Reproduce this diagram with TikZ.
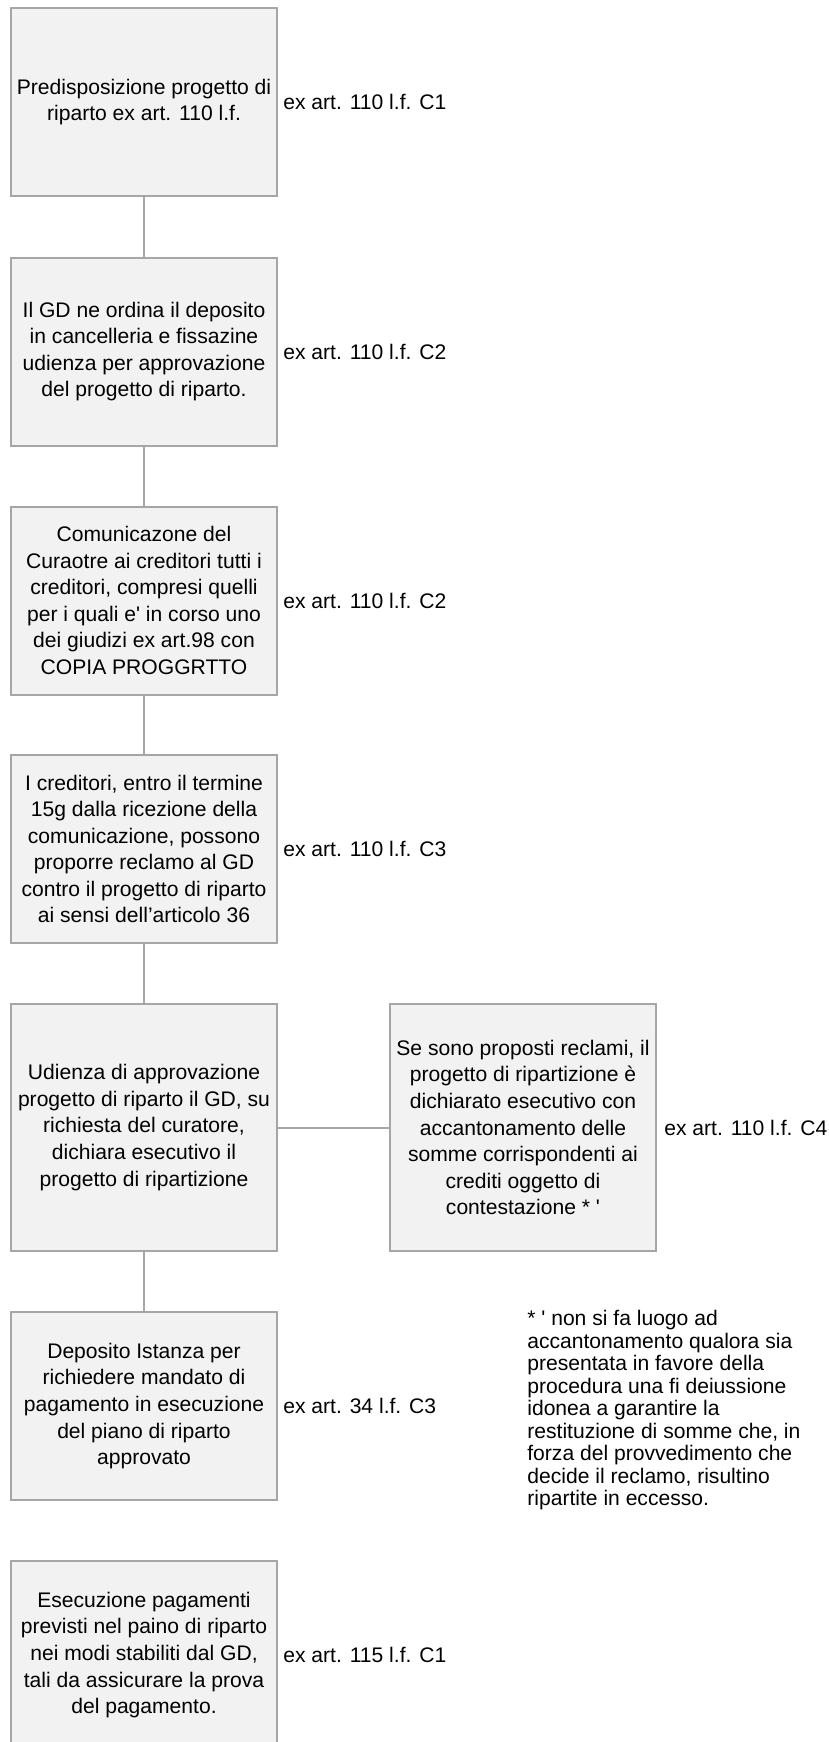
\documentclass[tikz,border=0pt]{standalone}
\usepackage{fontspec}
\setmainfont{Liberation Sans}
\usepackage{tikz}
\usetikzlibrary{positioning}
\definecolor{boxfill}{HTML}{F2F2F2}
\definecolor{boxline}{HTML}{A6A6A6}

\begin{document}
\begin{tikzpicture}[
    stepbox/.style={rectangle, draw=boxline, fill=boxfill, line width=0.04cm, minimum width=5.32cm,
                  minimum height=3.76cm, inner sep=0pt, align=center, font=\fontsize{12}{15.1}\selectfont},
    tallbox/.style={stepbox, minimum height=4.94cm},
    ref/.style={inner sep=0pt, font=\fontsize{12}{15.1}\selectfont},
    link/.style={draw=boxline, line width=0.04cm},
    note/.style={inner sep=0pt, align=left, font=\fontsize{12}{12.8}\selectfont}
]
    \useasboundingbox (0,0) rectangle (16.58,-34.84);

    % Steps
    \node[stepbox] (prep) at (2.88,-2.04) {Predisposizione progetto di\\riparto ex art. 110 l.f.};
    \node[stepbox] (deposit) at (2.88,-7.03) {Il GD ne ordina il deposito\\in cancelleria e fissazine\\udienza per approvazione\\del progetto di riparto.};
    \node[stepbox] (comm) at (2.88,-12.01) {Comunicazone del\\Curaotre ai creditori tutti i\\creditori, compresi quelli\\per i quali e\textquotesingle\ in corso uno\\dei giudizi ex art.98 con\\COPIA PROGGRTTO};
    \node[stepbox] (claim) at (2.88,-16.98) {I creditori, entro il termine\\15g dalla ricezione della\\comunicazione, possono\\proporre reclamo al GD\\contro il progetto di riparto\\ai sensi dell’articolo 36};
    \node[tallbox] (hearing) at (2.88,-22.55) {Udienza di approvazione\\progetto di riparto il GD, su\\richiesta del curatore,\\dichiara esecutivo il\\progetto di ripartizione};
    \node[tallbox] (reserve) at (10.46,-22.55) {Se sono proposti reclami, il\\progetto di ripartizione è\\dichiarato esecutivo con\\accantonamento delle\\somme corrispondenti ai\\crediti oggetto di\\contestazione * \textquotesingle};
    \node[stepbox] (request) at (2.88,-28.12) {Deposito Istanza per\\richiedere mandato di\\pagamento in esecuzione\\del piano di riparto\\approvato};
    \node[stepbox] (payment) at (2.88,-33.10) {Esecuzione pagamenti\\previsti nel paino di riparto\\nei modi stabiliti dal GD,\\tali da assicurare la prova\\del pagamento.};

    % References
    \node[ref, right=0.1cm of prep] (prepref) {ex art. 110 l.f. C1};
    \node[ref, right=0.1cm of deposit] (depositref) {ex art. 110 l.f. C2};
    \node[ref, right=0.1cm of comm] (commref) {ex art. 110 l.f. C2};
    \node[ref, right=0.1cm of claim] (claimref) {ex art. 110 l.f. C3};
    \node[ref, right=0.14cm of reserve] (reserveref) {ex art. 110 l.f. C4};
    \node[ref, right=0.1cm of request] (requestref) {ex art. 34 l.f. C3};
    \node[ref, right=0.1cm of payment] (paymentref) {ex art. 115 l.f. C1};

    % Footnote
    \node[note, anchor=north west] (footnote) at (10.54,-26.2) {* \textquotesingle\ non si fa luogo ad\\accantonamento qualora sia\\presentata in favore della\\procedura una fi deiussione\\idonea a garantire la\\restituzione di somme che, in\\forza del provvedimento che\\decide il reclamo, risultino\\ripartite in eccesso.};

    % Links
    \draw[link] (prep) -- (deposit);
    \draw[link] (deposit) -- (comm);
    \draw[link] (comm) -- (claim);
    \draw[link] (claim) -- (hearing);
    \draw[link] (hearing) -- (reserve);
    \draw[link] (hearing) -- (request);

\end{tikzpicture}
\end{document}
